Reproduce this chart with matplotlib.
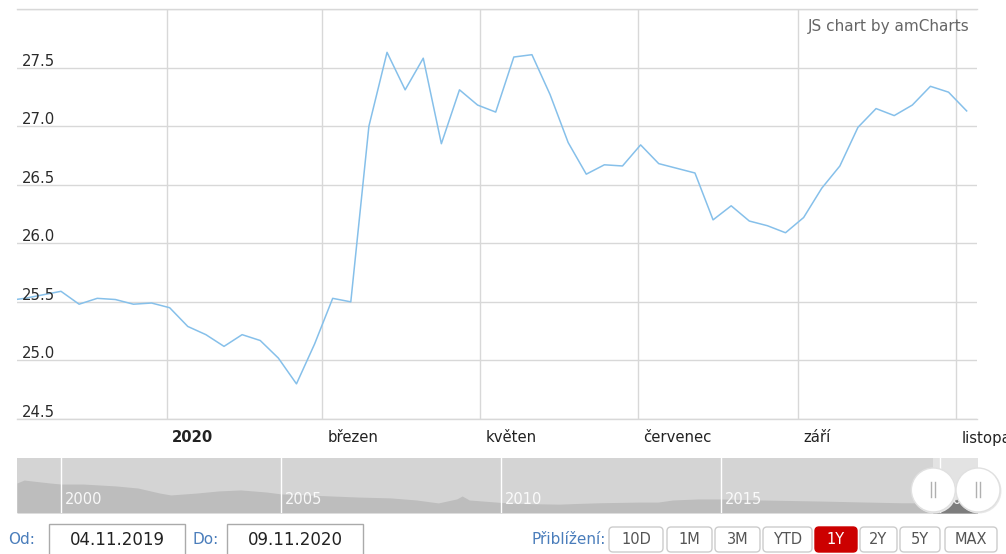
import numpy as np
import pandas as pd
import matplotlib
matplotlib.use("Agg")
import matplotlib.pyplot as plt
import matplotlib.dates as mdates
import matplotlib.transforms as mtransforms
from matplotlib.patches import FancyBboxPatch, Rectangle, Circle

# Weekly EUR/CZK closes (Thursdays)
week_start = "2019-10-31"
rates = [25.51, 25.53, 25.56, 25.59, 25.48, 25.53, 25.52, 25.48, 25.49, 25.45,
         25.29, 25.22, 25.12, 25.22, 25.17, 25.02, 24.80, 25.14, 25.53, 25.50,
         27.00, 27.63, 27.31, 27.58, 26.85, 27.31, 27.18, 27.12, 27.59, 27.61,
         27.27, 26.86, 26.59, 26.67, 26.66, 26.84, 26.68, 26.64, 26.60, 26.20,
         26.32, 26.19, 26.15, 26.09, 26.22, 26.47, 26.66, 26.99, 27.15, 27.09,
         27.18, 27.34, 27.29, 27.13]

# Long history shown in the scrollbar (navigator)
nav_dates = ["1999-01-01", "1999-03-01", "1999-05-01", "1999-10-01", "2000-01-01",
             "2000-07-01", "2001-04-01", "2001-10-01", "2002-04-01", "2002-07-01",
             "2003-02-01", "2003-08-01", "2004-02-01", "2004-09-01", "2005-01-01",
             "2006-03-01", "2006-10-01", "2007-07-01", "2008-02-01", "2008-08-01",
             "2009-01-01", "2009-02-15", "2009-04-15", "2010-01-01", "2010-06-01",
             "2011-05-01", "2011-10-01", "2012-04-01", "2013-03-01", "2013-08-01",
             "2013-12-01", "2014-07-01", "2015-01-01", "2015-12-01", "2017-04-01",
             "2018-05-01", "2019-02-01"]
nav_values = [37.0, 38.7, 38.2, 37.0, 36.4, 36.4, 35.3, 34.1, 31.2, 30.1,
              31.2, 32.4, 33.0, 31.8, 30.7, 29.5, 28.9, 28.4, 27.2, 25.5,
              27.8, 29.5, 27.2, 25.8, 25.2, 24.8, 25.2, 25.6, 26.0, 26.0,
              27.2, 27.8, 27.8, 27.2, 26.6, 26.0, 25.6]

month_ticks = ["2020-01-01", "2020-03-01", "2020-05-01", "2020-07-01", "2020-09-01", "2020-11-01"]
month_labels = ["2020", "březen", "květen", "červenec", "září", "listopad"]
year_ticks = ["2000-01-01", "2005-01-01", "2010-01-01", "2015-01-01", "2020-01-01"]
year_labels = ["2000", "2005", "2010", "2015", "2020"]
zoom_buttons = ["10D", "1M", "3M", "YTD", "1Y", "2Y", "5Y", "MAX"]
active_button = "1Y"
date_from = "04.11.2019"
date_to = "09.11.2020"

sel_start = pd.Timestamp("2019-11-04")
sel_end = pd.Timestamp("2020-11-09")

LINE = "#86c0ea"
GRID = "#d8d8d8"
BLUE = "#4a7dbb"
TXT = "#2a2a2a"

W, H = 1006, 554
fig = plt.figure(figsize=(W / 100, H / 100), dpi=100)


def px_axes(x0, y0, x1, y1, **kw):
    return fig.add_axes([x0 / W, 1 - y1 / H, (x1 - x0) / W, (y1 - y0) / H], **kw)


def shift(dx, dy):
    return mtransforms.ScaledTranslation(dx / 100, dy / 100, fig.dpi_scale_trans)


dates = pd.date_range(week_start, periods=len(rates), freq="7D")

# Main chart
ax = px_axes(17, 9, 977, 419)
ax.plot(dates, rates, color=LINE, lw=1.1, zorder=3)
ax.set_xlim(sel_start, sel_end)
ax.set_ylim(24.5, 28.0)
yticks = np.arange(24.5, 28.01, 0.5)
ax.set_yticks(yticks)
ax.set_xticks(pd.to_datetime(month_ticks))
ax.grid(True, color=GRID, lw=1)
ax.tick_params(length=0, labelbottom=False, labelleft=False)
for name, s in ax.spines.items():
    if name in ("top", "bottom"):
        s.set_color(GRID)
        s.set_linewidth(1)
    else:
        s.set_visible(False)

ytrans = mtransforms.blended_transform_factory(ax.transAxes, ax.transData) + shift(5, 2)
for v in yticks[:-1]:
    ax.text(0, v, f"{v:.1f}", transform=ytrans, ha="left", va="baseline",
            fontsize=10.7, color=TXT)

xtrans = mtransforms.blended_transform_factory(ax.transData, ax.transAxes) + shift(5, -19)
for d, lab in zip(pd.to_datetime(month_ticks), month_labels):
    ax.text(d, 0, lab, transform=xtrans, ha="left", va="center", fontsize=10.7,
            color="#222222", fontweight="bold" if lab == "2020" else "normal")

fig.text(970 / W, 1 - 27 / H, "JS chart by amCharts", ha="right", va="center",
         fontsize=11, color="#666666")

# Navigator / scrollbar
ax2 = px_axes(17, 458, 978, 513)
nav_x = pd.to_datetime(nav_dates).append(dates)
nav_y = nav_values + rates
ybot = 19.7
ax2.set_facecolor("#d4d4d4")
ax2.axvspan(sel_start, sel_end, color="#e3e3e3", lw=0, zorder=1)
ax2.fill_between(nav_x, nav_y, ybot, color="#bdbdbd", lw=0, zorder=2)
sel = (nav_x >= sel_start - pd.Timedelta(days=7)) & (nav_x <= sel_end)
ax2.fill_between(nav_x[sel], np.array(nav_y)[sel], ybot, color="#7d7d7d", lw=0, zorder=3)
ax2.set_xlim(pd.Timestamp("1999-01-01"), sel_end)
ax2.set_ylim(ybot, 51.4)
ax2.set_xticks([])
ax2.set_yticks([])
for s in ax2.spines.values():
    s.set_visible(False)
ntrans = mtransforms.blended_transform_factory(ax2.transData, ax2.transAxes) + shift(4, 0)
for d, lab in zip(pd.to_datetime(year_ticks), year_labels):
    ax2.axvline(d, color="white", lw=1, zorder=4)
    ax2.text(d, 0.24, lab, transform=ntrans, ha="left", va="center", fontsize=10.5,
             color="white", alpha=0.9, zorder=5)

# Overlay in pixel coordinates for the controls
ov = fig.add_axes([0, 0, 1, 1], zorder=10)
ov.set_xlim(0, W)
ov.set_ylim(H, 0)
ov.axis("off")

fig.canvas.draw()
for d in (sel_start, sel_end):
    cx = ax2.transData.transform((mdates.date2num(d), ybot))[0]
    ov.add_patch(Circle((cx + 1, 491), 22.5, fc="#e9e9e9", ec="none"))
    ov.add_patch(Circle((cx, 490), 22, fc="white", ec="#e0e0e0", lw=1))
    for dx in (-2, 2):
        ov.plot([cx + dx, cx + dx], [482, 497], color="#b0b0b0", lw=1)

ov.text(8, 540, "Od:", ha="left", va="center", fontsize=11, color=BLUE)
ov.add_patch(Rectangle((49, 524), 136, 40, fc="white", ec="#aaaaaa", lw=1))
ov.text(117, 540, date_from, ha="center", va="center", fontsize=12, color="#222222")
ov.text(193, 540, "Do:", ha="left", va="center", fontsize=11, color=BLUE)
ov.add_patch(Rectangle((227, 524), 136, 40, fc="white", ec="#aaaaaa", lw=1))
ov.text(295, 540, date_to, ha="center", va="center", fontsize=12, color="#222222")

ov.text(606, 540, "Přiblížení:", ha="right", va="center", fontsize=11, color=BLUE)
btn_left = [609, 667, 715, 763, 815, 860, 900, 945]
btn_width = [54, 45, 45, 49, 42, 37, 40, 52]
for lab, bx, bw in zip(zoom_buttons, btn_left, btn_width):
    on = lab == active_button
    ov.add_patch(FancyBboxPatch((bx, 527), bw, 25, boxstyle="round,pad=0,rounding_size=4",
                                fc="#cc0000" if on else "white",
                                ec="#cc0000" if on else "#cccccc", lw=1))
    ov.text(bx + bw / 2, 540, lab, ha="center", va="center", fontsize=10.5,
            color="white" if on else "#555555")

fig.savefig("out.png", dpi=100)
